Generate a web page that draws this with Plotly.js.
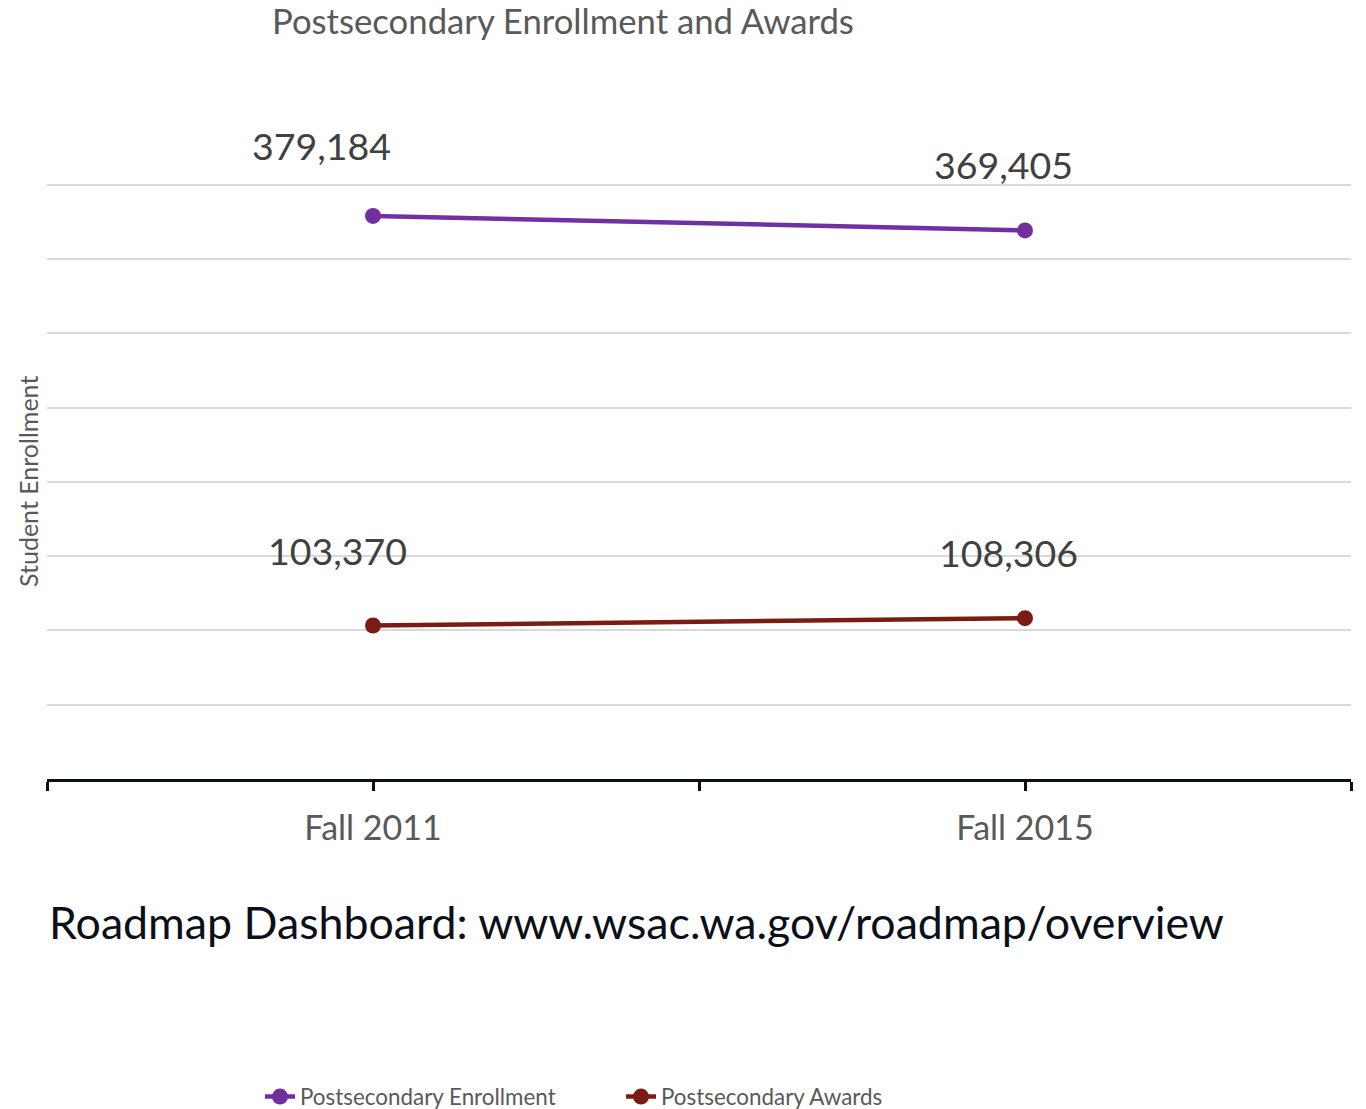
<!DOCTYPE html>
<html><head><meta charset="utf-8">
<script src="https://cdn.plot.ly/plotly-3.0.1.min.js"></script>
<style>html,body{margin:0;padding:0;background:#fff;}#chart{width:1366px;height:1109px;}</style>
</head><body><div id="chart"></div>
<script>
const categories = ["Fall 2011", "Fall 2015"];
const enrollment = [379184, 369405];
const awards = [103370, 108306];
const seriesNames = ["Postsecondary Enrollment", "Postsecondary Awards"];
const chartTitle = "Postsecondary Enrollment and Awards";
const yTitle = "Student Enrollment";
const footerText = "Roadmap Dashboard: www.wsac.wa.gov/roadmap/overview";

const xIdx = categories.map((c, i) => i);
const colors = ["#7030A0", "#7B1C14"];
const labelShifts = [
  [[-52, 70], [-22, 66]],
  [[-36, 75], [-17, 66]]
];
const fmt = v => v.toLocaleString("en-US");

const traces = [enrollment, awards].map((vals, s) => ({
  x: xIdx, y: vals, name: seriesNames[s], type: "scatter", mode: "lines+markers",
  line: {color: colors[s], width: 4.5}, marker: {color: colors[s], size: 16},
  hoverinfo: "skip"
}));

const annotations = [];
[enrollment, awards].forEach((vals, s) => {
  vals.forEach((v, i) => {
    annotations.push({x: xIdx[i], y: v, xref: "x", yref: "y", text: fmt(v), showarrow: false,
      xshift: labelShifts[s][i][0], yshift: labelShifts[s][i][1],
      font: {family: "Lato", size: 37.5, color: "#404040"}});
  });
});
// plot: left 47, width 1304; y=0 at 779px, 400000 at 185px (594px)
annotations.push({xref: "paper", yref: "paper", x: -19/1304, y: (779-482)/597, xanchor: "center", yanchor: "middle",
  text: yTitle, textangle: -90,
  showarrow: false, font: {family: "Lato", size: 25, color: "#595959"}});
annotations.push({xref: "paper", yref: "paper", x: 0, y: (779-922)/597, xanchor: "left", yanchor: "middle",
  text: footerText, showarrow: false, font: {family: "Lato", size: 44.7, color: "#0a0f1a"}});

const layout = {
  width: 1366, height: 1109,
  margin: {l: 47, r: 15, t: 182, b: 330, autoexpand: false},
  paper_bgcolor: "#fff", plot_bgcolor: "#fff",
  title: {text: chartTitle, x: 272/1366, xanchor: "left", xref: "container", y: 1 - 22/1109, yanchor: "middle",
    font: {family: "Lato", size: 34.7, color: "#595959"}},
  xaxis: {range: [-0.5, 1.5], tickmode: "array", tickvals: [-0.5, 0, 0.5, 1, 1.5],
    ticktext: ["", categories[0], "", categories[1], ""], showgrid: false, zeroline: false,
    showline: true, linecolor: "#0a0f1a", linewidth: 3, ticks: "outside", ticklen: 9, tickwidth: 3,
    tickcolor: "#0a0f1a", ticklabelstandoff: 8, tickfont: {family: "Lato", size: 34, color: "#595959"},
    automargin: false},
  yaxis: {range: [0, 402000], dtick: 50000, tick0: 0, showticklabels: false, showgrid: true,
    gridcolor: "#d9d9d9", gridwidth: 2, zeroline: false, ticks: "", automargin: false},
  showlegend: true,
  legend: {orientation: "h", x: 213/1304, xanchor: "left", y: (779-1097)/597, yanchor: "middle",
    font: {family: "Lato", size: 22.4, color: "#595959"}, entrywidth: 316, entrywidthmode: "pixels"},
  annotations: annotations,
  hovermode: false
};
Plotly.newPlot("chart", traces, layout, {displayModeBar: false, staticPlot: true});
</script></body></html>
